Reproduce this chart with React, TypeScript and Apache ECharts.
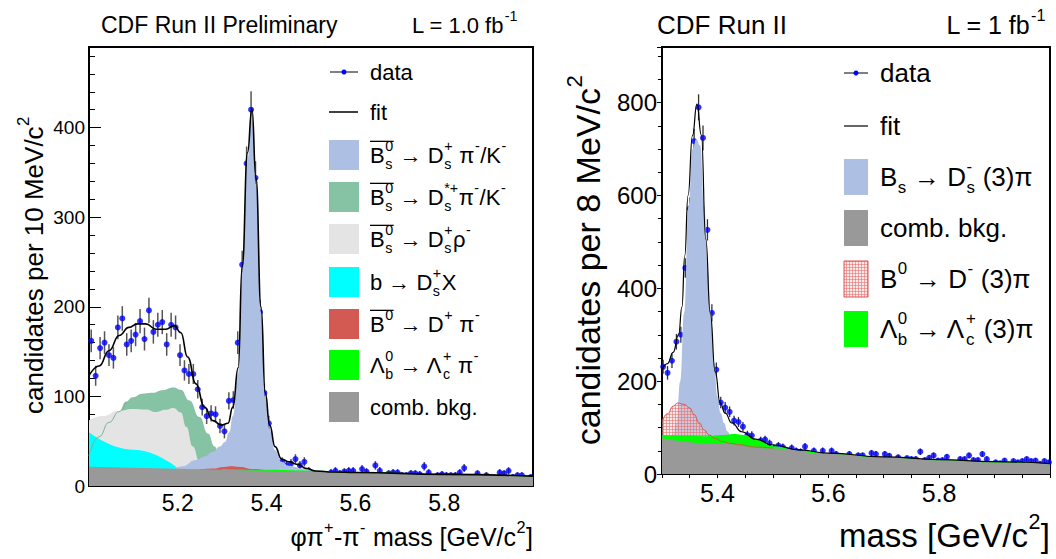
import React, { useEffect, useRef } from 'react';
import * as echarts from 'echarts';

const FF = '"Liberation Sans", Arial, Helvetica, sans-serif';

// ---------------- Left panel (phi pi+ - pi- mass) ----------------
const leftBinStart = 5.005;
const leftBinWidth = 0.01;
const leftCounts = [
  162, 123, 154, 160, 146, 143, 177, 187, 158, 162,
  169, 184, 164, 196, 172, 180, 183, 158, 180, 177,
  146, 129, 125, 125, 108, 88, 78, 81, 80, 67,
  61, 95, 96, 160, 247, 360, 420, 344, 194, 104,
  70, 30, 27, 27, 23, 25, 30, 23, 27, 17,
  14, 9, 9, 12, 15, 17, 14, 16, 17, 17,
  10, 19, 16, 5, 23, 17, 7, 14, 15, 15,
  12, 12, 14, 14, 13, 22, 15, 9, 12, 13,
  12, 12, 12, 15, 20, 10, 7, 14, 9, 12,
  9, 5, 15, 14, 17, 10, 12, 12, 7, 10,
];
const leftFit = [
  [5.0, 123], [5.023, 134], [5.045, 151], [5.068, 168], [5.09, 177], [5.109, 181], [5.128, 181],
  [5.151, 175], [5.173, 175], [5.192, 179], [5.207, 171], [5.222, 144], [5.241, 114], [5.26, 88],
  [5.279, 73], [5.298, 68], [5.313, 70], [5.324, 88], [5.336, 132], [5.345, 245], [5.357, 372],
  [5.367, 421], [5.376, 344], [5.3875, 200], [5.397, 104], [5.407, 68], [5.419, 44], [5.434, 30],
  [5.45, 27], [5.47, 24], [5.49, 19.5], [5.51, 16.8], [5.55, 15.6], [5.6, 15.1], [5.8, 13], [6.0, 11],
];
const leftBs = [
  [5.19, 18], [5.21, 22], [5.241, 29], [5.26, 33], [5.279, 38], [5.295, 44], [5.306, 49], [5.316, 60],
  [5.324, 78], [5.336, 125], [5.345, 238], [5.357, 365], [5.367, 414], [5.376, 337], [5.3875, 194],
  [5.397, 99], [5.407, 63], [5.419, 40], [5.434, 27], [5.45, 22.5], [5.48, 19.5], [5.52, 17], [5.56, 15.5],
];
const leftDsStar = [
  [5.0, 34], [5.023, 55], [5.045, 71], [5.068, 83], [5.083, 94], [5.098, 99], [5.12, 103], [5.143, 104],
  [5.166, 107], [5.19, 110], [5.207, 107.5], [5.226, 95.5], [5.249, 77], [5.268, 58.5], [5.283, 44],
  [5.294, 33], [5.31, 20],
];
const leftRho = [
  [5.0, 73], [5.03, 78], [5.068, 84], [5.098, 86], [5.128, 85.5], [5.151, 82.6], [5.173, 85], [5.19, 87],
  [5.207, 82], [5.219, 66], [5.234, 44], [5.249, 27], [5.264, 19],
];
const leftDsX = [[5.0, 60], [5.1, 40.5], [5.2, 20]];
const leftB0 = [[5.25, 18.5], [5.28, 19.5], [5.3, 21], [5.32, 22], [5.34, 21.3], [5.37, 19], [5.4, 17.5]];
const leftLb = [[5.3, 19], [5.4, 18], [5.5, 17], [5.6, 15.6], [5.8, 13.2], [6.0, 10.9]];
const leftComb = [[5.0, 21.5], [6.0, 10.5]];

// ---------------- Right panel (mass) ----------------
const rightBinStart = 5.302;
const rightBinWidth = 0.008;
const rightCounts = [
  231, 218, 244, 285, 300, 444, 572, 717, 790, 724,
  526, 347, 225, 154, 143, 134, 115, 112, 102, 84,
  83, 64, 72, 74, 66, 56, 61, 58, 50, 56,
  50, 48, 59, 27, 50, 40, 50, 37, 50, 43,
  36, 36, 43, 32, 40, 40, 32, 45, 43, 21,
  43, 39, 30, 36, 25, 34, 32, 32, 48, 30,
  35, 40, 29, 30, 37, 22, 22, 32, 32, 40,
  30, 30, 43, 32, 20, 25, 23, 29, 16, 28,
  25, 28, 32, 28, 29, 22, 28, 25, 23,
];
const rightFit = [
  [5.3, 225], [5.31, 238], [5.32, 262], [5.33, 300], [5.336, 360], [5.341, 470], [5.347, 600],
  [5.355, 729], [5.363, 797], [5.371, 730], [5.379, 506], [5.387, 347], [5.396, 220], [5.405, 153],
  [5.414, 131], [5.426, 110], [5.444, 91], [5.469, 75], [5.499, 63], [5.548, 52], [5.6, 45],
  [5.7, 37], [5.8, 31], [5.9, 26.5], [6.0, 22.5],
];
const rightBs = [
  [5.312, 70], [5.32, 85], [5.326, 110], [5.333, 200], [5.34, 347], [5.348, 578], [5.355, 700],
  [5.362, 722], [5.369, 708], [5.376, 578], [5.383, 434], [5.388, 347], [5.394, 239], [5.4, 167],
  [5.406, 131], [5.412, 110], [5.418, 92], [5.425, 78], [5.44, 62],
];
const rightB0 = [
  [5.3, 113], [5.31, 130], [5.32, 146], [5.328, 153], [5.34, 150], [5.35, 142], [5.358, 128],
  [5.367, 110], [5.376, 95], [5.385, 84], [5.397, 76], [5.409, 70], [5.424, 66], [5.439, 63],
  [5.469, 58], [5.5, 55.5],
];
const rightLb = [
  [5.3, 84], [5.34, 83], [5.38, 81.5], [5.41, 84], [5.43, 86], [5.45, 84], [5.47, 74], [5.5, 60],
  [5.55, 50], [5.6, 44.5], [5.7, 36.5], [5.8, 30.5], [5.9, 26], [6.0, 22],
];
const rightComb = [
  [5.3, 77], [5.4, 65], [5.5, 55], [5.6, 43], [5.7, 35.5], [5.8, 29.5], [5.9, 25], [6.0, 21],
];

// ---------------- colours ----------------
const C_BLUE = '#adc0e3';
const C_DSSTAR = '#86c2a4';
const C_RHO = '#e4e4e4';
const C_CYAN = '#00ffff';
const C_RED = '#d35a52';
const C_LB = '#00ff00';
const C_GRAY = '#999999';
const C_DOT = '#0000ff';

// ---------------- text helpers ----------------
let mctx: CanvasRenderingContext2D | null = null;
function measure(s: string, fs: number) {
  if (!mctx) mctx = document.createElement('canvas').getContext('2d');
  if (!mctx) return s.length * fs * 0.55;
  mctx.font = `${fs}px ${FF}`;
  return mctx.measureText(s).width;
}
type Seg = { t?: string; sub?: string; sup?: string; bar?: boolean };
function txt(s: string, x: number, y: number, fs: number, color: string) {
  return {
    type: 'text', x, y, silent: true,
    style: { text: s, fontSize: fs, fontFamily: FF, fill: color, align: 'left', verticalAlign: 'middle' },
  };
}
function buildRich(segs: Seg[], fs: number, color = '#000') {
  const els: any[] = [];
  let x = 0;
  const sfs = fs * 0.65;
  for (const s of segs) {
    const start = x;
    if (s.t) {
      const m = s.t.match(/^ */);
      const lead = m ? m[0].length : 0;
      if (lead) x += measure(' ', fs) * lead;
      const body = s.t.slice(lead);
      if (body) {
        els.push(txt(body, x, 0, fs, color));
        x += measure(body, fs);
      }
    }
    let w = 0;
    if (s.sup) {
      els.push(txt(s.sup, x + 0.5, -fs * 0.4, sfs, color));
      w = Math.max(w, measure(s.sup, sfs));
    }
    if (s.sub) {
      els.push(txt(s.sub, x + 0.5, fs * 0.4, sfs, color));
      w = Math.max(w, measure(s.sub, sfs));
    }
    if (w) x += w + 1;
    if (s.bar) {
      els.push({
        type: 'line', silent: true,
        shape: { x1: start, y1: -fs * 0.62, x2: x, y2: -fs * 0.62 },
        style: { stroke: color, lineWidth: 1.3 },
      });
    }
  }
  return { els, width: x };
}
function label(segs: Seg[], fs: number, x: number, y: number, anchor: 'left' | 'right' = 'left') {
  const r = buildRich(segs, fs);
  return { type: 'group', x: anchor === 'left' ? x : x - r.width, y, children: r.els };
}
function vlabel(segs: Seg[], fs: number, cx: number, cy: number) {
  const r = buildRich(segs, fs);
  return {
    type: 'group', x: cx, y: cy, rotation: Math.PI / 2,
    children: [{ type: 'group', x: -r.width / 2, y: 0, children: r.els }],
  };
}

function hatchPattern() {
  const c = document.createElement('canvas');
  c.width = 3; c.height = 3;
  const g = c.getContext('2d');
  if (g) {
    g.fillStyle = 'rgba(255,205,205,0.45)';
    g.fillRect(0, 0, 3, 3);
    g.fillStyle = 'rgba(222,110,110,0.55)';
    g.fillRect(0, 0, 1, 3);
    g.fillRect(0, 0, 3, 1);
  }
  return { image: c, repeat: 'repeat' };
}

function isMult(v: number, step: number) {
  return Math.abs(v / step - Math.round(v / step)) < 1e-6;
}

function area(data: number[][], color: any, xi: number, yi: number) {
  return {
    type: 'line', data, xAxisIndex: xi, yAxisIndex: yi, smooth: true, smoothMonotone: 'x',
    symbol: 'none', silent: true, lineStyle: { width: 0, opacity: 0 },
    areaStyle: { color, opacity: 1 },
  };
}
function curve(data: number[][], color: string, width: number, xi: number, yi: number) {
  return {
    type: 'line', data, xAxisIndex: xi, yAxisIndex: yi, smooth: true, smoothMonotone: 'x',
    symbol: 'none', silent: true, lineStyle: { width, color },
  };
}
function errBars(points: number[][], xi: number, yi: number, color: string, lw: number) {
  return {
    type: 'custom', xAxisIndex: xi, yAxisIndex: yi, clip: true, silent: true, data: points,
    renderItem: (params: any, api: any) => {
      const x = api.value(0);
      const y = api.value(1);
      const e = Math.sqrt(y);
      const a = api.coord([x, y + e]);
      const b = api.coord([x, Math.max(0, y - e)]);
      return {
        type: 'line',
        shape: { x1: a[0], y1: a[1], x2: b[0], y2: b[1] },
        style: { stroke: color, lineWidth: lw },
      };
    },
  };
}
function dots(points: number[][], xi: number, yi: number, size: number) {
  return {
    type: 'scatter', data: points, xAxisIndex: xi, yAxisIndex: yi, symbol: 'circle', symbolSize: size,
    silent: true, itemStyle: { color: C_DOT },
  };
}

function buildOption() {
  const hatch = hatchPattern();
  const leftPts = leftCounts.map((v, i) => [leftBinStart + i * leftBinWidth, v]);
  const rightPts = rightCounts.map((v, i) => [rightBinStart + i * rightBinWidth, v]);
  const leftDsStarEdge = leftDsStar.filter((p) => p[0] <= 5.09);

  const axLine = { show: true, onZero: false, lineStyle: { color: '#000', width: 2 } };
  const noLine = { show: false };

  const xAxis = [
    {
      type: 'value', gridIndex: 0, position: 'bottom', min: 5.0, max: 6.0, interval: 0.2,
      axisLine: axLine,
      axisTick: { show: true, inside: true, length: 12, lineStyle: { color: '#000', width: 1 } },
      axisLabel: {
        margin: 5, fontSize: 23, color: '#000', fontFamily: FF,
        formatter: (v: number) => (v > 5.1 && v < 5.9 && isMult(v, 0.2) ? v.toFixed(1) : ''),
      },
      splitLine: { show: false },
    },
    {
      type: 'value', gridIndex: 0, position: 'bottom', min: 5.0, max: 6.0, interval: 0.05,
      axisLine: noLine,
      axisTick: { show: true, inside: true, length: 6, lineStyle: { color: '#000', width: 1 } },
      axisLabel: { show: false }, splitLine: { show: false },
    },
    {
      type: 'value', gridIndex: 1, position: 'bottom', min: 5.3, max: 6.0, interval: 0.05,
      axisLine: axLine,
      axisTick: { show: true, inside: false, length: 4, lineStyle: { color: '#000', width: 1 } },
      axisLabel: {
        margin: 6, fontSize: 25, color: '#000', fontFamily: FF,
        formatter: (v: number) => (v > 5.35 && v < 5.9 && isMult(v, 0.2) ? v.toFixed(1) : ''),
      },
      splitLine: { show: false },
    },
  ];
  const yAxis = [
    {
      type: 'value', gridIndex: 0, position: 'left', min: 0, max: 490, interval: 100,
      axisLine: axLine,
      axisTick: { show: true, inside: true, length: 12, lineStyle: { color: '#000', width: 1 } },
      axisLabel: {
        margin: 4, fontSize: 19, color: '#000', fontFamily: FF,
        formatter: (v: number) => (v <= 400 && isMult(v, 100) ? String(Math.round(v)) : ''),
      },
      splitLine: { show: false },
    },
    {
      type: 'value', gridIndex: 0, position: 'left', min: 0, max: 490, interval: 20,
      axisLine: noLine,
      axisTick: { show: true, inside: true, length: 6, lineStyle: { color: '#000', width: 1 } },
      axisLabel: { show: false }, splitLine: { show: false },
    },
    {
      type: 'value', gridIndex: 1, position: 'left', min: 0, max: 920, interval: 200,
      axisLine: axLine,
      axisTick: { show: true, inside: false, length: 5, lineStyle: { color: '#000', width: 1 } },
      axisLabel: {
        margin: 5, fontSize: 24, color: '#000', fontFamily: FF,
        formatter: (v: number) => (v <= 800 && isMult(v, 200) ? String(Math.round(v)) : ''),
      },
      splitLine: { show: false },
    },
    {
      type: 'value', gridIndex: 1, position: 'left', min: 0, max: 920, interval: 50,
      axisLine: noLine,
      axisTick: { show: true, inside: false, length: 4, lineStyle: { color: '#000', width: 1 } },
      axisLabel: { show: false }, splitLine: { show: false },
    },
  ];

  const series: any[] = [
    // left panel
    area(leftDsStar, C_DSSTAR, 0, 0),
    area(leftRho, C_RHO, 0, 0),
    area(leftDsX, C_CYAN, 0, 0),
    curve(leftDsStarEdge, '#7cb596', 1, 0, 0),
    area(leftBs, C_BLUE, 0, 0),
    area(leftB0, C_RED, 0, 0),
    area(leftLb, C_LB, 0, 0),
    { ...area(leftComb, C_GRAY, 0, 0), smooth: false },
    curve(leftFit, '#000', 1.6, 0, 0),
    errBars(leftPts, 0, 0, '#555', 1.5),
    dots(leftPts, 0, 0, 6),
    // right panel
    area(rightBs, C_BLUE, 2, 2),
    area(rightB0, hatch, 2, 2),
    area(rightLb, C_LB, 2, 2),
    area(rightComb, C_GRAY, 2, 2),
    curve(rightB0, '#d9534f', 1, 2, 2),
    curve(rightFit, '#000', 1.2, 2, 2),
    errBars(rightPts, 2, 2, '#333', 1.3),
    dots(rightPts, 2, 2, 6),
  ];

  const g: any[] = [];
  // ---- left panel texts ----
  g.push(label([{ t: 'CDF Run II Preliminary' }], 23, 101, 25));
  g.push(label([{ t: 'L = 1.0 fb', sup: '-1' }], 22, 518, 25, 'right'));
  g.push(label([{ t: 'φπ', sup: '+' }, { t: '-π', sup: '-' }, { t: ' mass [GeV/c', sup: '2' }, { t: ']' }], 25, 533, 537, 'right'));
  g.push(vlabel([{ t: 'candidates per 10 MeV/c', sup: '2' }], 26, 34, 265));

  const LX = 370;
  const LFS = 22;
  // data
  g.push({ type: 'line', silent: true, shape: { x1: 330, y1: 72, x2: 358, y2: 72 }, style: { stroke: '#000', lineWidth: 1 } });
  g.push({ type: 'circle', silent: true, shape: { cx: 344, cy: 72, r: 2.5 }, style: { fill: C_DOT } });
  g.push(label([{ t: 'data' }], LFS, LX, 72));
  // fit
  g.push({ type: 'line', silent: true, shape: { x1: 329, y1: 112, x2: 358, y2: 112 }, style: { stroke: '#000', lineWidth: 1.5 } });
  g.push(label([{ t: 'fit' }], LFS, LX, 112));
  const leftBoxes: [number, string, Seg[]][] = [
    [155, C_BLUE, [{ t: 'B', sub: 's', sup: '0', bar: true }, { t: ' → D', sub: 's', sup: '+' }, { t: ' π', sup: '-' }, { t: '/K', sup: '-' }]],
    [197, C_DSSTAR, [{ t: 'B', sub: 's', sup: '0', bar: true }, { t: ' → D', sub: 's', sup: '*+' }, { t: 'π', sup: '-' }, { t: '/K', sup: '-' }]],
    [239, C_RHO, [{ t: 'B', sub: 's', sup: '0', bar: true }, { t: ' → D', sub: 's', sup: '+' }, { t: 'ρ', sup: '-' }]],
    [282, C_CYAN, [{ t: 'b → D', sub: 's', sup: '+' }, { t: 'X' }]],
    [324, C_RED, [{ t: 'B', sup: '0', bar: true }, { t: ' → D', sup: '+' }, { t: ' π', sup: '-' }]],
    [365, C_LB, [{ t: 'Λ', sub: 'b', sup: '0' }, { t: ' → Λ', sub: 'c', sup: '+' }, { t: ' π', sup: '-' }]],
    [407, C_GRAY, [{ t: 'comb. bkg.' }]],
  ];
  for (const [y, col, segs] of leftBoxes) {
    g.push({ type: 'rect', silent: true, shape: { x: 329, y: y - 15, width: 30, height: 30 }, style: { fill: col } });
    g.push(label(segs, LFS, LX, y));
  }

  // ---- right panel texts ----
  g.push(label([{ t: 'CDF Run II' }], 26, 657, 25));
  g.push(label([{ t: 'L = 1 fb', sup: '-1' }], 25, 1046, 25, 'right'));
  g.push(label([{ t: 'mass [GeV/c', sup: '2' }, { t: ']' }], 33, 1050, 535, 'right'));
  g.push(vlabel([{ t: 'candidates per 8 MeV/c', sup: '2' }], 34, 588, 260));

  const RX = 880;
  const RFS = 26;
  g.push({ type: 'line', silent: true, shape: { x1: 844, y1: 73, x2: 868, y2: 73 }, style: { stroke: '#000', lineWidth: 1 } });
  g.push({ type: 'circle', silent: true, shape: { cx: 856, cy: 73, r: 2.5 }, style: { fill: C_DOT } });
  g.push(label([{ t: 'data' }], RFS, RX, 73));
  g.push({ type: 'line', silent: true, shape: { x1: 844, y1: 126, x2: 868, y2: 126 }, style: { stroke: '#000', lineWidth: 1.2 } });
  g.push(label([{ t: 'fit' }], RFS, RX, 126));
  const rightBoxes: [number, any, string | null, Seg[]][] = [
    [177, C_BLUE, null, [{ t: 'B', sub: 's' }, { t: ' → D', sub: 's', sup: '-' }, { t: ' (3)π' }]],
    [228, C_GRAY, null, [{ t: 'comb. bkg.' }]],
    [279, hatch, '#d9534f', [{ t: 'B', sup: '0' }, { t: ' → D', sup: '-' }, { t: ' (3)π' }]],
    [329, C_LB, null, [{ t: 'Λ', sub: 'b', sup: '0' }, { t: ' → Λ', sub: 'c', sup: '+' }, { t: ' (3)π' }]],
  ];
  for (const [y, col, stroke, segs] of rightBoxes) {
    g.push({
      type: 'rect', silent: true, shape: { x: 844, y: y - 18, width: 24, height: 36 },
      style: stroke ? { fill: col, stroke, lineWidth: 1 } : { fill: col },
    });
    g.push(label(segs, RFS, RX, y));
  }

  return {
    animation: false,
    backgroundColor: '#fff',
    grid: [
      { left: 89, top: 47, width: 444, height: 439, show: true, borderColor: '#000', borderWidth: 2, backgroundColor: 'transparent' },
      { left: 662, top: 47, width: 388, height: 427, show: true, borderColor: '#000', borderWidth: 2, backgroundColor: 'transparent' },
    ],
    xAxis,
    yAxis,
    series,
    graphic: { elements: g },
  };
}

export default function App() {
  const ref = useRef<HTMLDivElement>(null);
  useEffect(() => {
    if (!ref.current) return;
    const chart = echarts.init(ref.current, null, { renderer: 'svg' });
    chart.setOption(buildOption() as any);
    return () => chart.dispose();
  }, []);
  return (
    <div
      ref={ref}
      style={{ position: 'absolute', left: 0, top: 0, width: 1056, height: 559, background: '#fff' }}
    />
  );
}
